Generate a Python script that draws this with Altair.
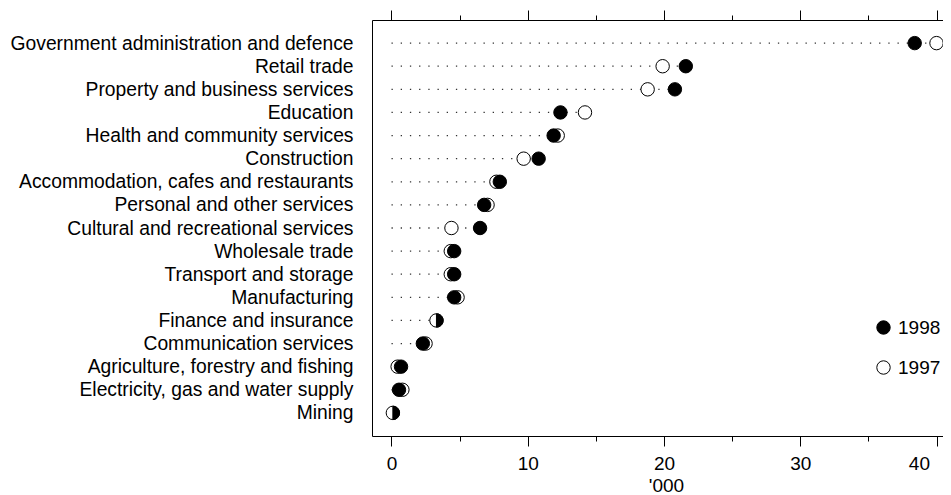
import altair as alt
import pandas as pd

categories = [
    "Government administration and defence",
    "Retail trade",
    "Property and business services",
    "Education",
    "Health and community services",
    "Construction",
    "Accommodation, cafes and restaurants",
    "Personal and other services",
    "Cultural and recreational services",
    "Wholesale trade",
    "Transport and storage",
    "Manufacturing",
    "Finance and insurance",
    "Communication services",
    "Agriculture, forestry and fishing",
    "Electricity, gas and water supply",
    "Mining",
]
v1998 = [38.4, 21.6, 20.8, 12.4, 11.9, 10.8, 7.95, 6.8, 6.5, 4.6, 4.6, 4.6, 3.3, 2.3, 0.7, 0.55, 0.1]
v1997 = [40.0, 19.9, 18.8, 14.2, 12.2, 9.7, 7.7, 7.05, 4.4, 4.35, 4.35, 4.85, 3.3, 2.5, 0.45, 0.8, 0.1]
years = ["1998", "1997"]
major_ticks = [0, 10, 20, 30, 40]
minor_ticks = [5, 15, 25, 35]

FONT = "Liberation Sans"

rules = pd.DataFrame({
    "category": categories,
    "zero": [0] * len(categories),
    "maxv": [max(a, b) for a, b in zip(v1998, v1997)],
})

rows = []
for c, a, b in zip(categories, v1998, v1997):
    rows.append({"category": c, "year": "1997", "value": b, "same": a == b})
for c, a, b in zip(categories, v1998, v1997):
    rows.append({"category": c, "year": "1998", "value": a, "same": a == b})
points = pd.DataFrame(rows)

xscale = alt.Scale(domain=[-1.431, 40.477], nice=False, zero=False)
yaxis = alt.Axis(title=None, ticks=False, domain=True, domainColor="black", domainWidth=1,
                 labelFont=FONT, labelFontSize=19.3, labelColor="black", labelPadding=19,
                 labelLimit=500)
yenc = alt.Y("category:N", sort=categories, scale=alt.Scale(type="point", padding=1.0435), axis=yaxis)


def xaxis(orient, values, size, labels, domain, title=None):
    kw = dict(orient=orient, values=values, grid=False, domain=domain, domainColor="black",
              domainWidth=1, tickColor="black", tickSize=size, tickWidth=1, labels=labels)
    if labels:
        kw.update(labelFont=FONT, labelFontSize=19, labelColor="black", labelPadding=8.5,
                  labelFlush=8, labelFlushOffset=-7)
    if title is not None:
        kw.update(title=title, titleFont=FONT, titleFontSize=19, titleFontWeight="normal",
                  titleColor="black", titlePadding=3, titleX=294, titleAlign="center")
    else:
        kw.update(title=None)
    return alt.Axis(**kw)


rule_layer = alt.Chart(rules).mark_rule(
    color="#333", strokeWidth=1.3, strokeDash=[1.3, 7.9]
).encode(
    x=alt.X("zero:Q", scale=xscale, axis=xaxis("top", major_ticks, 10, False, True)),
    x2="maxv:Q",
    y=yenc,
)

half = "M0,-1A1,1,0,0,1,0,1Z"
point_layer = alt.Chart(points).mark_point(
    filled=True, stroke="black", strokeWidth=1, size=180, opacity=1
).encode(
    x=alt.X("value:Q", scale=xscale, axis=xaxis("bottom", major_ticks, 10, True, True, "'000")),
    y=yenc,
    fill=alt.Fill("year:N", scale=alt.Scale(domain=years, range=["black", "white"]),
                  legend=alt.Legend(orient="none", legendX=502, legendY=298, title=None,
                                    symbolType="circle", symbolSize=180,
                                    symbolStrokeColor="black", symbolStrokeWidth=1,
                                    labelFont=FONT, labelFontSize=19, labelColor="black",
                                    labelOffset=5, rowPadding=20, padding=0)),
    shape=alt.condition("datum.same && datum.year == '1998'", alt.value(half), alt.value("circle")),
)

minor_top = alt.Chart(points).mark_point(opacity=0).encode(
    x=alt.X("value:Q", scale=xscale, axis=xaxis("top", minor_ticks, 5, False, False)),
    y=yenc,
)
minor_bottom = alt.Chart(points).mark_point(opacity=0).encode(
    x=alt.X("value:Q", scale=xscale, axis=xaxis("bottom", minor_ticks, 5, False, False)),
    y=yenc,
)

chart = alt.layer(minor_top, minor_bottom, rule_layer, point_layer).resolve_scale(
    x="independent"
).resolve_axis(x="independent").properties(
    width=571,
    height=416,
    autosize=alt.AutoSizeParams(type="none"),
    padding={"left": 364, "top": 12, "right": 0, "bottom": 59},
    background="white",
).configure_view(stroke=None)

chart.save("out.html", embed_options={"renderer": "svg", "actions": False})
